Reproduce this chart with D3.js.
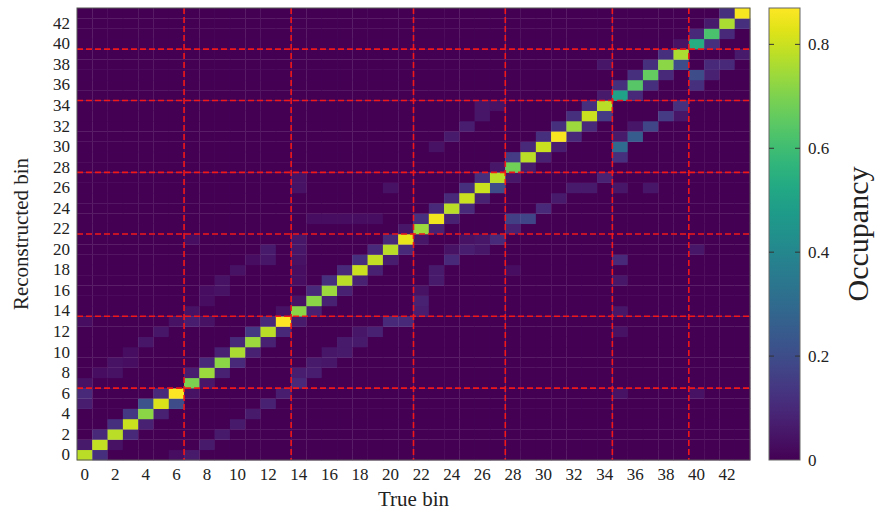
<!DOCTYPE html>
<html>
<head>
<meta charset="utf-8">
<script src="https://cdn.jsdelivr.net/npm/d3@7"></script>
<style>
  body { margin: 0; background: #fff; }
  text { font-family: "Liberation Serif", "DejaVu Serif", serif; fill: #222; }
</style>
</head>
<body>
<script>
var w = 879;
var h = 512;

// bins 0..43 on both axes
var bins = d3.range(44);
var tickBins = d3.range(0, 44, 2);

// occupancy on the diagonal (true bin == reconstructed bin)
var diagonal = [0.78, 0.79, 0.78, 0.80, 0.72, 0.82, 0.87, 0.70, 0.74, 0.72,
                0.76, 0.74, 0.78, 0.87, 0.72, 0.72, 0.74, 0.78, 0.80, 0.79,
                0.78, 0.84, 0.74, 0.85, 0.78, 0.80, 0.80, 0.78, 0.68, 0.78,
                0.80, 0.86, 0.74, 0.80, 0.78, 0.50, 0.64, 0.66, 0.72, 0.76,
                0.54, 0.62, 0.76, 0.86];

// off-diagonal cells: [true bin, reconstructed bin, occupancy]
var offDiagonal = [
  [0, 1, 0.06], [0, 5, 0.07], [0, 6, 0.10], [0, 7, 0.04], [0, 13, 0.03],
  [1, 0, 0.12], [1, 2, 0.10], [1, 8, 0.03],
  [2, 1, 0.04], [2, 3, 0.12], [2, 8, 0.04], [2, 9, 0.04],
  [3, 2, 0.10], [3, 4, 0.14], [3, 9, 0.03], [3, 10, 0.03],
  [4, 3, 0.08], [4, 5, 0.22], [4, 11, 0.05],
  [5, 4, 0.08], [5, 6, 0.10], [5, 12, 0.05],
  [6, 5, 0.20], [6, 0, 0.03], [6, 13, 0.04],
  [7, 0, 0.06], [7, 6, 0.04], [7, 8, 0.07], [7, 13, 0.07], [7, 14, 0.04], [7, 21, 0.03],
  [8, 1, 0.06], [8, 7, 0.05], [8, 9, 0.10], [8, 13, 0.04], [8, 15, 0.03], [8, 16, 0.03],
  [9, 2, 0.06], [9, 8, 0.08], [9, 10, 0.08], [9, 16, 0.04], [9, 17, 0.04],
  [10, 3, 0.06], [10, 9, 0.10], [10, 11, 0.10], [10, 18, 0.04],
  [11, 4, 0.06], [11, 10, 0.08], [11, 12, 0.14], [11, 19, 0.03],
  [12, 5, 0.08], [12, 11, 0.08], [12, 13, 0.10], [12, 19, 0.05], [12, 20, 0.06],
  [13, 6, 0.07], [13, 12, 0.10], [13, 14, 0.04],
  [14, 7, 0.10], [14, 8, 0.07], [14, 13, 0.06], [14, 15, 0.04], [14, 17, 0.03],
  [14, 18, 0.03], [14, 19, 0.04], [14, 20, 0.05], [14, 21, 0.05], [14, 26, 0.04], [14, 27, 0.04],
  [15, 8, 0.07], [15, 9, 0.06], [15, 14, 0.08], [15, 16, 0.10], [15, 23, 0.03],
  [16, 9, 0.05], [16, 10, 0.05], [16, 15, 0.08], [16, 17, 0.12], [16, 23, 0.03],
  [17, 10, 0.06], [17, 11, 0.06], [17, 16, 0.08], [17, 18, 0.10], [17, 23, 0.03],
  [18, 11, 0.06], [18, 12, 0.05], [18, 17, 0.08], [18, 19, 0.12], [18, 23, 0.03],
  [19, 12, 0.08], [19, 18, 0.08], [19, 20, 0.10], [19, 23, 0.03],
  [20, 13, 0.10], [20, 19, 0.07], [20, 21, 0.10], [20, 26, 0.04],
  [21, 13, 0.10], [21, 20, 0.10], [21, 22, 0.05],
  [22, 14, 0.07], [22, 15, 0.08], [22, 16, 0.04], [22, 21, 0.05], [22, 23, 0.12],
  [23, 17, 0.06], [23, 18, 0.06], [23, 22, 0.08], [23, 24, 0.10], [23, 30, 0.04],
  [24, 19, 0.10], [24, 20, 0.04], [24, 23, 0.08], [24, 25, 0.10], [24, 31, 0.06],
  [25, 20, 0.07], [25, 21, 0.04], [25, 24, 0.10], [25, 26, 0.12], [25, 32, 0.07],
  [26, 20, 0.05], [26, 21, 0.05], [26, 25, 0.08], [26, 27, 0.12], [26, 33, 0.05], [26, 34, 0.05],
  [27, 21, 0.10], [27, 26, 0.20], [27, 28, 0.05], [27, 34, 0.04],
  [28, 22, 0.08], [28, 23, 0.16], [28, 18, 0.03], [28, 27, 0.05], [28, 29, 0.15],
  [29, 23, 0.18], [29, 28, 0.06], [29, 30, 0.10],
  [30, 24, 0.10], [30, 29, 0.08], [30, 31, 0.12],
  [31, 25, 0.06], [31, 30, 0.07], [31, 32, 0.12],
  [32, 26, 0.06], [32, 31, 0.10], [32, 33, 0.12],
  [33, 26, 0.06], [33, 32, 0.10], [33, 34, 0.12],
  [34, 27, 0.08], [34, 33, 0.15], [34, 35, 0.06], [34, 38, 0.05],
  [35, 6, 0.04], [35, 12, 0.04], [35, 14, 0.05], [35, 17, 0.05], [35, 19, 0.10], [35, 26, 0.05],
  [35, 29, 0.12], [35, 30, 0.30], [35, 31, 0.06], [35, 36, 0.12],
  [36, 31, 0.25], [36, 32, 0.05], [36, 35, 0.10], [36, 37, 0.12],
  [37, 26, 0.05], [37, 32, 0.18], [37, 36, 0.12], [37, 38, 0.12],
  [38, 33, 0.15], [38, 37, 0.10], [38, 39, 0.12],
  [39, 33, 0.05], [39, 34, 0.12], [39, 38, 0.20], [39, 40, 0.04],
  [40, 6, 0.04], [40, 20, 0.05], [40, 36, 0.12], [40, 37, 0.20], [40, 41, 0.10],
  [41, 37, 0.08], [41, 38, 0.10], [41, 40, 0.12], [41, 42, 0.06],
  [42, 38, 0.10], [42, 41, 0.10], [42, 43, 0.12],
  [43, 39, 0.06], [43, 42, 0.12]
];

// red dashed boundaries between groups of bins
var boundaries = [6.5, 13.5, 21.5, 27.5, 34.5, 39.5];

var colorTicks = [0, 0.2, 0.4, 0.6, 0.8];
var colorMax = 0.87;

// build the full cell table from the arrays above
var cells = [];
bins.forEach(function(t) {
  bins.forEach(function(r) {
    cells.push({t: t, r: r, v: 0});
  });
});
function cellAt(t, r) { return cells[t * 44 + r]; }
diagonal.forEach(function(v, i) { cellAt(i, i).v = v; });
offDiagonal.forEach(function(d) { cellAt(d[0], d[1]).v = d[2]; });

var pLeft = 77, pRight = 750, pTop = 8, pBottom = 460;

var xScale = d3.scaleBand().domain(bins).range([pLeft, pRight]);
var yScale = d3.scaleBand().domain(bins).range([pBottom, pTop]);
// continuous scales for the boundary lines
var xLin = d3.scaleLinear().domain([-0.5, 43.5]).range([pLeft, pRight]);
var yLin = d3.scaleLinear().domain([-0.5, 43.5]).range([pBottom, pTop]);

var color = d3.scaleSequential(d3.interpolateViridis).domain([0, colorMax]);

var svg = d3.select("body")
  .append("svg")
  .attr("width", w)
  .attr("height", h);

svg.append("g")
  .selectAll("rect")
  .data(cells)
  .enter()
  .append("rect")
  .attr("x", function(d) { return xScale(d.t); })
  .attr("y", function(d) { return yScale(d.r); })
  .attr("width", xScale.bandwidth() + 0.3)
  .attr("height", yScale.bandwidth() + 0.3)
  .attr("fill", function(d) { return color(d.v); });

// red dashed lines
var lines = svg.append("g")
  .attr("stroke", "#f01818")
  .attr("stroke-width", 1.6)
  .attr("stroke-dasharray", "6,3");

boundaries.forEach(function(b) {
  lines.append("line")
    .attr("x1", xLin(b)).attr("x2", xLin(b))
    .attr("y1", pTop).attr("y2", pBottom);
  lines.append("line")
    .attr("x1", pLeft).attr("x2", pRight)
    .attr("y1", yLin(b)).attr("y2", yLin(b));
});

// frame
svg.append("rect")
  .attr("x", pLeft).attr("y", pTop)
  .attr("width", pRight - pLeft).attr("height", pBottom - pTop)
  .attr("fill", "none")
  .attr("stroke", "#555")
  .attr("stroke-width", 1);

// axes
var xAxis = d3.axisBottom(xScale).tickValues(tickBins).tickSize(0).tickPadding(8);
var yAxis = d3.axisLeft(yScale).tickValues(tickBins).tickSize(0).tickPadding(7);

var gx = svg.append("g")
  .attr("transform", "translate(0," + pBottom + ")")
  .call(xAxis);
var gy = svg.append("g")
  .attr("transform", "translate(" + pLeft + ",0)")
  .call(yAxis);

[gx, gy].forEach(function(g) {
  g.select(".domain").remove();
  g.selectAll("text")
    .style("font-family", "Liberation Serif, serif")
    .style("font-size", "17px")
    .style("fill", "#222");
});

svg.append("text")
  .attr("x", (pLeft + pRight) / 2)
  .attr("y", 506)
  .attr("text-anchor", "middle")
  .style("font-size", "21px")
  .text("True bin");

svg.append("text")
  .attr("transform", "translate(28," + ((pTop + pBottom) / 2) + ") rotate(-90)")
  .attr("text-anchor", "middle")
  .style("font-size", "21px")
  .text("Reconstructed bin");

// colour bar
var cbX = 769, cbW = 31;
var cScale = d3.scaleLinear().domain([0, colorMax]).range([pBottom, pTop]);

var defs = svg.append("defs");
var grad = defs.append("linearGradient")
  .attr("id", "cbar")
  .attr("x1", "0").attr("y1", "1")
  .attr("x2", "0").attr("y2", "0");
d3.range(0, 1.0001, 0.05).forEach(function(s) {
  grad.append("stop")
    .attr("offset", s)
    .attr("stop-color", d3.interpolateViridis(s));
});

svg.append("rect")
  .attr("x", cbX).attr("y", pTop)
  .attr("width", cbW).attr("height", pBottom - pTop)
  .attr("fill", "url(#cbar)")
  .attr("stroke", "#666")
  .attr("stroke-width", 1);

var cb = svg.append("g");
colorTicks.forEach(function(t) {
  if (t > 0) {
    cb.append("line")
      .attr("x1", cbX).attr("x2", cbX + 5)
      .attr("y1", cScale(t)).attr("y2", cScale(t))
      .attr("stroke", "#333");
    cb.append("line")
      .attr("x1", cbX + cbW - 5).attr("x2", cbX + cbW)
      .attr("y1", cScale(t)).attr("y2", cScale(t))
      .attr("stroke", "#333");
  }
  cb.append("text")
    .attr("x", cbX + cbW + 8)
    .attr("y", cScale(t))
    .attr("dy", "0.35em")
    .style("font-size", "17px")
    .text(t === 0 ? "0" : t.toFixed(1));
});

svg.append("text")
  .attr("transform", "translate(868," + ((pTop + pBottom) / 2) + ") rotate(-90)")
  .attr("text-anchor", "middle")
  .style("font-size", "30px")
  .text("Occupancy");
</script>
</body>
</html>
